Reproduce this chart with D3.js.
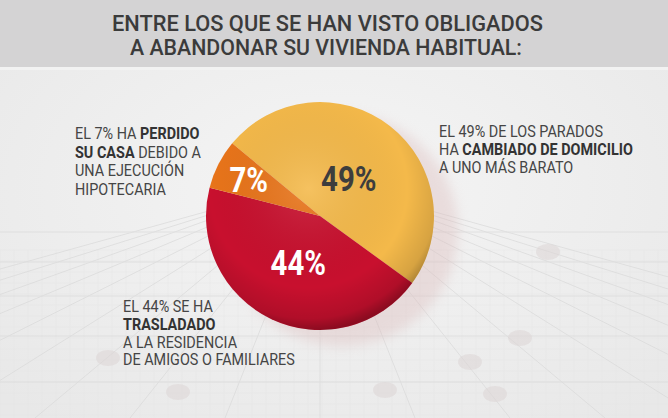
<!DOCTYPE html>
<html>
<head>
<meta charset="utf-8">
<script src="https://cdn.jsdelivr.net/npm/d3@7"></script>
<style>
html,body{margin:0;padding:0;background:#eeeeee;}
svg{display:block;}
</style>
</head>
<body>
<svg id="chart" width="668" height="418"></svg>
<script>
// ---- data ----
const titleLines = ["ENTRE LOS QUE SE HAN VISTO OBLIGADOS", "A ABANDONAR SU VIVIENDA HABITUAL:"];
const categories = ["Cambio a vivienda más barata", "Residencia de amigos o familiares", "Ejecución hipotecaria"];
const values = [49, 44, 7];
const sliceLabels = ["49%", "44%", "7%"];
const annotation49 = [[["EL 49% DE LOS PARADOS", 0]], [["HA ", 0], ["CAMBIADO DE DOMICILIO", 1]], [["A UNO MÁS BARATO", 0]]];
const annotation7 = [[["EL 7% HA ", 0], ["PERDIDO", 1]], [["SU CASA", 1], [" DEBIDO A", 0]], [["UNA EJECUCIÓN", 0]], [["HIPOTECARIA", 0]]];
const annotation44 = [[["EL 44% SE HA", 0]], [["TRASLADADO", 1]], [["A LA RESIDENCIA", 0]], [["DE AMIGOS O FAMILIARES", 0]]];

// ---- layout ----
const W = 668, H = 418;
const cx = 320, cy = 216, R = 114;
const startDeg = -50.4;
const sliceColors = ["#f4b94a", "#c8102e", "#e8741a"];
const labelColors = ["#3d3d3d", "#ffffff", "#ffffff"];
const labelRadius = [47, 51, 80];

const svg = d3.select("#chart");
const defs = svg.append("defs");

// background
const bg = defs.append("radialGradient").attr("id", "bgGrad").attr("cx", "50%").attr("cy", "45%").attr("r", "70%");
bg.append("stop").attr("offset", "0%").attr("stop-color", "#f5f5f5");
bg.append("stop").attr("offset", "100%").attr("stop-color", "#e8e8e8");
svg.append("rect").attr("width", W).attr("height", H).attr("fill", "url(#bgGrad)");

// decorative perspective grid (faint)
const fine = svg.append("g").attr("stroke", "#e0e0e0").attr("stroke-width", 0.6).attr("opacity", 0.6);
d3.range(0, W, 14).forEach(x => fine.append("line").attr("x1", x).attr("x2", x).attr("y1", 250).attr("y2", H));
d3.range(250, H, 11).forEach(y => fine.append("line").attr("x1", 0).attr("x2", W).attr("y1", y).attr("y2", y));
const grid = svg.append("g").attr("stroke", "#d9d9d9").attr("stroke-width", 1).attr("fill", "none").attr("opacity", 0.7);
const vpx = 320, vpy = 200;
d3.range(-9, 10).forEach(i => {
  grid.append("line").attr("x1", vpx + i * 8).attr("y1", vpy).attr("x2", vpx + i * 95).attr("y2", H);
});
[232, 262, 296, 336, 382].forEach(y => {
  grid.append("line").attr("x1", 0).attr("x2", W).attr("y1", y).attr("y2", y);
});
const dots = svg.append("g").attr("fill", "#ddd6d6").attr("opacity", 0.55);
[[178, 392], [385, 390], [495, 394], [470, 362], [520, 338], [108, 358], [548, 252]].forEach(p =>
  dots.append("ellipse").attr("cx", p[0]).attr("cy", p[1]).attr("rx", 12).attr("ry", 8));

// header band
svg.append("rect").attr("x", 0).attr("y", 0).attr("width", W).attr("height", 67).attr("fill", "#d4d3d4");
svg.append("rect").attr("x", 0).attr("y", 67).attr("width", W).attr("height", 3).attr("fill", "#f2f2f2");

const titleG = svg.append("g").attr("font-family", "Roboto, 'Liberation Sans', sans-serif")
  .attr("font-weight", 500).attr("font-size", 22).attr("fill", "#3b3b3b");
titleLines.forEach((t, i) => {
  titleG.append("text").attr("x", i === 0 ? 112 : 130).attr("y", i === 0 ? 31 : 55)
    .attr("textLength", i === 0 ? 431 : 392).attr("lengthAdjust", "spacingAndGlyphs").text(t);
});

// pie shadow
const blur = defs.append("filter").attr("id", "blur").attr("x", "-30%").attr("y", "-30%").attr("width", "160%").attr("height", "160%");
blur.append("feGaussianBlur").attr("stdDeviation", 6);
svg.append("circle").attr("cx", cx + 22).attr("cy", cy + 14).attr("r", R + 2)
  .attr("fill", "#dcbcbc").attr("opacity", 0.4).attr("filter", "url(#blur)");

// pie
const pie = d3.pie().sort(null).value(d => d)
  .startAngle(startDeg * Math.PI / 180).endAngle(startDeg * Math.PI / 180 + 2 * Math.PI);
const arcs = pie(values);
const arc = d3.arc().innerRadius(0).outerRadius(R);
const pieG = svg.append("g").attr("transform", `translate(${cx},${cy})`);
pieG.selectAll("path.slice").data(arcs).join("path").attr("class", "slice")
  .attr("d", arc).attr("fill", (d, i) => sliceColors[i]);

// shading overlay (edge darkening + top highlight)
const shade = defs.append("radialGradient").attr("id", "shade").attr("cx", "45%").attr("cy", "38%").attr("r", "62%");
shade.append("stop").attr("offset", "0%").attr("stop-color", "#fff").attr("stop-opacity", 0.12);
shade.append("stop").attr("offset", "70%").attr("stop-color", "#000").attr("stop-opacity", 0);
shade.append("stop").attr("offset", "92%").attr("stop-color", "#000").attr("stop-opacity", 0.12);
shade.append("stop").attr("offset", "100%").attr("stop-color", "#000").attr("stop-opacity", 0.3);
pieG.append("circle").attr("r", R).attr("fill", "url(#shade)");

// slice labels
pieG.selectAll("text.pct").data(arcs).join("text").attr("class", "pct")
  .attr("transform", (d, i) => {
    const a = (d.startAngle + d.endAngle) / 2, r = labelRadius[i];
    return `translate(${r * Math.sin(a)},${-r * Math.cos(a)}) scale(0.84,1)`;
  })
  .attr("text-anchor", "middle").attr("dy", "0.36em")
  .attr("font-family", "Roboto, 'Liberation Sans', sans-serif").attr("font-weight", 700)
  .attr("font-size", 35).attr("fill", (d, i) => labelColors[i])
  .text((d, i) => sliceLabels[i]);

// annotations
function annotate(lines, x, y, lh, sx) {
  const g = svg.append("g").attr("transform", `translate(${x},${y}) scale(${sx},1)`)
    .attr("font-family", "Roboto, 'Liberation Sans', sans-serif").attr("font-size", 16).attr("fill", "#3e3e3e");
  lines.forEach((parts, i) => {
    const t = g.append("text").attr("x", 0).attr("y", i * lh);
    parts.forEach(p => t.append("tspan").attr("font-weight", p[1] ? 700 : 400).attr("fill", p[1] ? "#333" : "#454545").text(p[0]));
  });
}
annotate(annotation7, 75, 139, 18.6, 0.9);
annotate(annotation49, 439, 137, 17.8, 0.9);
annotate(annotation44, 123, 312, 17.8, 0.9);
</script>
</body>
</html>
